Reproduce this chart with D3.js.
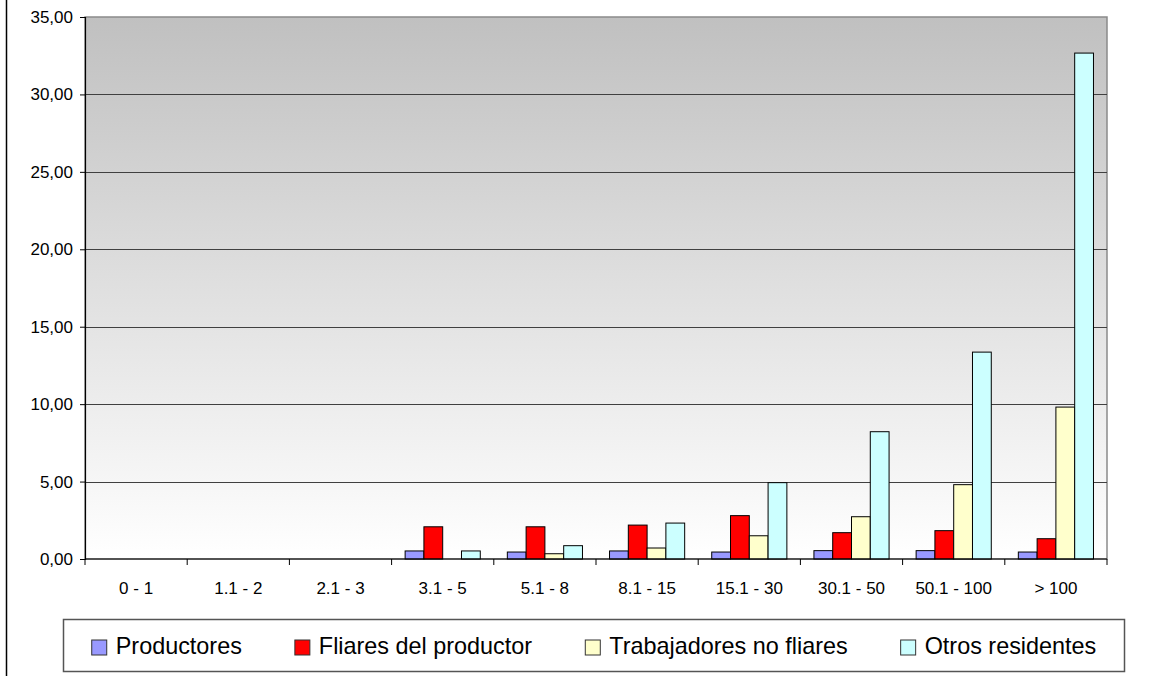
<!DOCTYPE html>
<html>
<head>
<meta charset="utf-8">
<script src="https://cdn.jsdelivr.net/npm/d3@7"></script>
<style>
  body { margin: 0; background: #fff; }
  text { font-family: "Liberation Sans", Arial, sans-serif; fill: #000; }
</style>
</head>
<body>
<svg id="chart" width="1171" height="676"></svg>
<script>
var categories = ["0 - 1", "1.1 - 2", "2.1 - 3", "3.1 - 5", "5.1 - 8", "8.1 - 15", "15.1 - 30", "30.1 - 50", "50.1 - 100", "> 100"];
var seriesNames = ["Productores", "Fliares del productor", "Trabajadores no fliares", "Otros residentes"];
var productores = [0, 0, 0, 0.52, 0.45, 0.52, 0.45, 0.54, 0.54, 0.45];
var fliares = [0, 0, 0, 2.08, 2.08, 2.19, 2.80, 1.70, 1.83, 1.31];
var trabajadores = [0, 0, 0, 0, 0.34, 0.71, 1.50, 2.73, 4.80, 9.81];
var otros = [0, 0, 0, 0.52, 0.86, 2.32, 4.93, 8.22, 13.36, 32.67];
var yTicks = [0, 5, 10, 15, 20, 25, 30, 35];
var colors = ["#9999FF", "#FF0000", "#FFFFCC", "#CCFFFF"];

var seriesValues = [productores, fliares, trabajadores, otros];

var margin = { top: 17, right: 64, bottom: 117, left: 85 },
  width = 1171,
  height = 676;

var svg = d3.select("#chart");

// outer chart frame (only left edge visible)
svg.append("line")
  .attr("x1", 6.5).attr("x2", 6.5)
  .attr("y1", 0).attr("y2", height)
  .attr("stroke", "#000").attr("stroke-width", 1.5);

var x = d3.scaleBand()
  .domain(categories)
  .range([margin.left, width - margin.right]);

var xInner = d3.scaleBand()
  .domain(d3.range(seriesNames.length))
  .range([0, x.bandwidth()])
  .paddingOuter(0.72)
  .paddingInner(0);

var y = d3.scaleLinear()
  .domain([0, 35])
  .range([height - margin.bottom, margin.top]);

// background gradient
var defs = svg.append("defs");
var grad = defs.append("linearGradient")
  .attr("id", "bg").attr("x1", 0).attr("y1", 0).attr("x2", 0).attr("y2", 1);
grad.append("stop").attr("offset", "0%").attr("stop-color", "#c0c0c0");
grad.append("stop").attr("offset", "100%").attr("stop-color", "#ffffff");

svg.append("rect")
  .attr("x", margin.left)
  .attr("y", margin.top)
  .attr("width", width - margin.right - margin.left)
  .attr("height", y(0) - margin.top)
  .attr("fill", "url(#bg)")
  .attr("stroke", "#8a8a8a")
  .attr("stroke-width", 1.5);

// gridlines
svg.append("g")
  .selectAll("line")
  .data(yTicks.filter(function (d) { return d > 0 && d < 35; }))
  .enter().append("line")
    .attr("x1", margin.left)
    .attr("x2", width - margin.right)
    .attr("y1", function (d) { return Math.round(y(d)) + 0.5; })
    .attr("y2", function (d) { return Math.round(y(d)) + 0.5; })
    .attr("stroke", "#404040")
    .attr("stroke-width", 1.2);

// bars
var groups = svg.append("g")
  .selectAll("g")
  .data(seriesValues)
  .enter().append("g")
    .attr("fill", function (d, i) { return colors[i]; });

groups.selectAll("rect")
  .data(function (d, i) { return d.map(function (v, j) { return { s: i, c: categories[j], v: v }; }); })
  .enter().append("rect")
    .filter(function (d) { return d.v > 0; })
    .attr("x", function (d) { return x(d.c) + xInner(d.s); })
    .attr("y", function (d) { return y(d.v); })
    .attr("width", xInner.bandwidth())
    .attr("height", function (d) { return y(0) - y(d.v); })
    .attr("stroke", "#000")
    .attr("stroke-width", 1);

// y axis
var yAxis = svg.append("g")
  .attr("transform", "translate(" + margin.left + ",0)")
  .call(d3.axisLeft(y)
    .tickValues(yTicks)
    .tickSize(5)
    .tickPadding(7)
    .tickFormat(function (d) { return d3.format(".2f")(d).replace(".", ","); }));
yAxis.select(".domain").attr("stroke", "#000").attr("stroke-width", 1.2);
yAxis.selectAll(".tick line").attr("stroke", "#000");
yAxis.selectAll("text").style("font-size", "17px").attr("fill", "#000");

// x axis
var xAxisG = svg.append("g")
  .attr("transform", "translate(0," + y(0) + ")");
xAxisG.append("line")
  .attr("x1", margin.left).attr("x2", width - margin.right)
  .attr("y1", 0).attr("y2", 0)
  .attr("stroke", "#000").attr("stroke-width", 1.2);
var bounds = categories.map(function (c) { return x(c); }).concat([width - margin.right]);
xAxisG.selectAll(".xt")
  .data(bounds)
  .enter().append("line")
    .attr("x1", function (d) { return d; })
    .attr("x2", function (d) { return d; })
    .attr("y1", 0).attr("y2", 6)
    .attr("stroke", "#000");
xAxisG.selectAll(".xl")
  .data(categories)
  .enter().append("text")
    .attr("x", function (d) { return x(d) + x.bandwidth() / 2; })
    .attr("y", 35)
    .attr("text-anchor", "middle")
    .style("font-size", "17px")
    .text(function (d) { return d; });

// legend
var legend = svg.append("g");
legend.append("rect")
  .attr("x", 63.5).attr("y", 619.5)
  .attr("width", 1061).attr("height", 52)
  .attr("fill", "#fff")
  .attr("stroke", "#555")
  .attr("stroke-width", 1.5);

var items = legend.selectAll(".item")
  .data(seriesNames)
  .enter().append("g");
items.append("rect")
  .attr("width", 15).attr("height", 15)
  .attr("y", 640)
  .attr("fill", function (d, i) { return colors[i]; })
  .attr("stroke", "#333");
items.append("text")
  .attr("x", 24)
  .attr("y", 654)
  .style("font-size", "23.4px")
  .text(function (d) { return d; });

var gapBetween = 53;
var widths = [];
items.each(function () { widths.push(this.getBBox().width); });
var total = d3.sum(widths) + gapBetween * (widths.length - 1);
var cx = 63.5 + 1061 / 2 - total / 2;
items.attr("transform", function (d, i) {
  var t = "translate(" + cx + ",0)";
  cx += widths[i] + gapBetween;
  return t;
});
</script>
</body>
</html>
